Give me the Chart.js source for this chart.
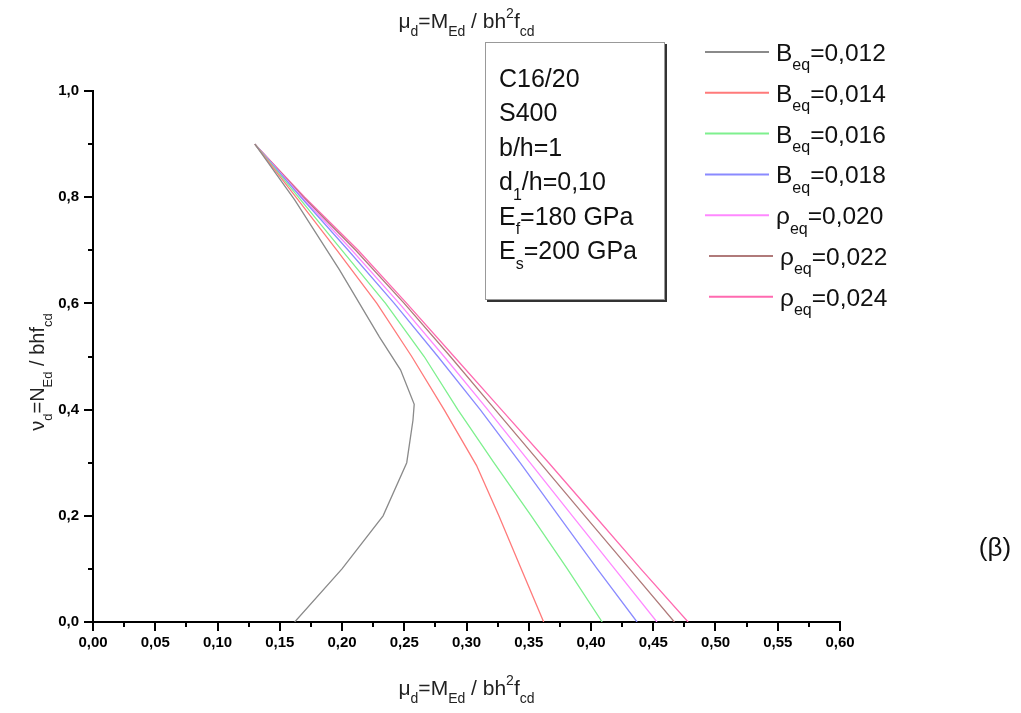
<!DOCTYPE html>
<html>
<head>
<meta charset="utf-8">
<script src="https://cdn.jsdelivr.net/npm/chart.js@4"></script>
<style>
  html, body { margin: 0; background: #fff; }
</style>
</head>
<body>
<canvas id="chart" width="1021" height="713"></canvas>
<script>
// curve values (mu_d, nu_d)
const mu012 = [0.130, 0.162, 0.198, 0.230, 0.247, 0.258, 0.257, 0.252, 0.233, 0.200, 0.162];
const nu012 = [0.900, 0.795, 0.663, 0.537, 0.475, 0.410, 0.380, 0.300, 0.200, 0.100, 0.000];
const mu014 = [0.130, 0.163, 0.196, 0.228, 0.256, 0.282, 0.308, 0.326, 0.344, 0.362];
const nu014 = [0.900, 0.800, 0.700, 0.600, 0.500, 0.400, 0.295, 0.200, 0.100, 0.000];
const mu016 = [0.130, 0.165, 0.200, 0.235, 0.266, 0.293, 0.322, 0.352, 0.381, 0.409];
const nu016 = [0.900, 0.800, 0.700, 0.600, 0.500, 0.400, 0.300, 0.200, 0.100, 0.000];
const mu018 = [0.130, 0.167, 0.205, 0.242, 0.277, 0.311, 0.343, 0.374, 0.405, 0.437];
const nu018 = [0.900, 0.800, 0.700, 0.600, 0.500, 0.400, 0.300, 0.200, 0.100, 0.000];
const mu020 = [0.130, 0.168, 0.208, 0.246, 0.282, 0.317, 0.351, 0.385, 0.419, 0.453];
const nu020 = [0.900, 0.800, 0.700, 0.600, 0.500, 0.400, 0.300, 0.200, 0.100, 0.000];
const mu022 = [0.130, 0.169, 0.211, 0.250, 0.287, 0.323, 0.359, 0.395, 0.431, 0.467];
const nu022 = [0.900, 0.800, 0.700, 0.600, 0.500, 0.400, 0.300, 0.200, 0.100, 0.000];
const mu024 = [0.130, 0.170, 0.213, 0.252, 0.290, 0.328, 0.366, 0.403, 0.440, 0.478];
const nu024 = [0.900, 0.800, 0.700, 0.600, 0.500, 0.400, 0.300, 0.200, 0.100, 0.000];

const legendSymbols = ['B', 'B', 'B', 'B', 'ρ', 'ρ', 'ρ'];
const legendValues = ['0,012', '0,014', '0,016', '0,018', '0,020', '0,022', '0,024'];
const lineColors = ['#8a8a8a', '#ff7a7a', '#7ef08e', '#8a8aff', '#ff88ff', '#b07a7a', '#ff6ab0'];

const boxLines = [
  [['C16/20', 'n']],
  [['S400', 'n']],
  [['b/h=1', 'n']],
  [['d', 'n'], ['1', 'sub'], ['/h=0,10', 'n']],
  [['E', 'n'], ['f', 'sub'], ['=180 GPa', 'n']],
  [['E', 'n'], ['s', 'sub'], ['=200 GPa', 'n']]
];

const xTitle = [['μ', 'n'], ['d', 'sub'], ['=M', 'n'], ['Ed', 'sub'], [' / bh', 'n'], ['2', 'sup'], ['f', 'n'], ['cd', 'sub']];
const yTitle = [['ν', 'n'], ['d', 'sub'], ['=N', 'n'], ['Ed', 'sub'], [' / bhf', 'n'], ['cd', 'sub']];

const FONT = '"Liberation Sans", Arial, sans-serif';
const SUB = 0.65;

const pairs = (xs, ys) => xs.map((x, i) => ({ x: x, y: ys[i] }));
const seriesX = [mu012, mu014, mu016, mu018, mu020, mu022, mu024];
const seriesY = [nu012, nu014, nu016, nu018, nu020, nu022, nu024];

// rich text: normal / sub / sup pieces
function richWidth(ctx, parts, size) {
  let w = 0;
  for (const [t, m] of parts) {
    ctx.font = (m === 'n' ? size : Math.round(size * SUB)) + 'px ' + FONT;
    w += ctx.measureText(t).width;
  }
  return w;
}
function drawRich(ctx, parts, x, y, size, color) {
  ctx.fillStyle = color;
  ctx.textBaseline = 'alphabetic';
  ctx.textAlign = 'left';
  for (const [t, m] of parts) {
    let dy = 0;
    if (m === 'n') {
      ctx.font = size + 'px ' + FONT;
    } else {
      ctx.font = Math.round(size * SUB) + 'px ' + FONT;
      dy = m === 'sub' ? size * 0.38 : -size * 0.5;
    }
    ctx.fillText(t, x, y + dy);
    x += ctx.measureText(t).width;
  }
}

const extras = {
  id: 'extras',
  afterDraw(chart) {
    const ctx = chart.ctx;
    const xs = chart.scales.x, ys = chart.scales.y;
    ctx.save();
    // minor ticks
    ctx.strokeStyle = '#000';
    ctx.lineWidth = 2;
    ctx.beginPath();
    for (let v = 0.025; v < 0.6; v += 0.05) {
      const px = Math.round(xs.getPixelForValue(v));
      ctx.moveTo(px, ys.bottom);
      ctx.lineTo(px, ys.bottom + 5);
    }
    for (let v = 0.1; v < 1; v += 0.2) {
      const py = Math.round(ys.getPixelForValue(v));
      ctx.moveTo(xs.left, py);
      ctx.lineTo(xs.left - 5, py);
    }
    ctx.stroke();

    // axis titles
    const cx = (xs.left + xs.right) / 2;
    let w = richWidth(ctx, xTitle, 21);
    drawRich(ctx, xTitle, cx - w / 2, 28, 21, '#222');
    drawRich(ctx, xTitle, cx - w / 2, 695, 21, '#222');
    ctx.save();
    ctx.translate(44, 372);
    ctx.rotate(-Math.PI / 2);
    w = richWidth(ctx, yTitle, 20);
    drawRich(ctx, yTitle, -w / 2, 0, 20, '#222');
    ctx.restore();

    // parameter box
    ctx.fillStyle = '#fff';
    ctx.fillRect(485, 42, 180, 258);
    ctx.strokeStyle = '#999';
    ctx.lineWidth = 1;
    ctx.strokeRect(485.5, 42.5, 179, 257);
    ctx.strokeStyle = '#333';
    ctx.lineWidth = 2;
    ctx.beginPath();
    ctx.moveTo(487, 301);
    ctx.lineTo(666, 301);
    ctx.lineTo(666, 44);
    ctx.stroke();
    boxLines.forEach((parts, i) => drawRich(ctx, parts, 499, 87 + i * 34.4, 25, '#111'));

    // legend
    chart.data.datasets.forEach((ds, i) => {
      const y = 52 + i * 40.8;
      const shift = i >= 5 ? 4 : 0;
      ctx.strokeStyle = ds.borderColor;
      ctx.lineWidth = 2;
      ctx.beginPath();
      ctx.moveTo(705 + shift, y);
      ctx.lineTo(769 + shift, y);
      ctx.stroke();
      const parts = [[legendSymbols[i], 'n'], ['eq', 'sub'], ['=' + legendValues[i], 'n']];
      drawRich(ctx, parts, 776 + shift, y + 9, 24.5, '#111');
    });

    // panel mark
    ctx.font = '26px ' + FONT;
    ctx.fillStyle = '#111';
    ctx.textAlign = 'center';
    ctx.textBaseline = 'middle';
    ctx.fillText('(β)', 995, 549);
    ctx.restore();
  }
};

new Chart(document.getElementById('chart'), {
  type: 'scatter',
  data: {
    datasets: seriesX.map((xs, i) => ({
      label: legendSymbols[i] + 'eq=' + legendValues[i],
      data: pairs(xs, seriesY[i]),
      showLine: true,
      borderColor: lineColors[i],
      borderWidth: 1.3,
      pointRadius: 0,
      tension: 0
    }))
  },
  options: {
    responsive: false,
    animation: false,
    devicePixelRatio: 1,
    layout: { padding: { left: 0, top: 91, right: 181, bottom: 0 } },
    plugins: { legend: { display: false }, tooltip: { enabled: false } },
    scales: {
      x: {
        type: 'linear',
        min: 0,
        max: 0.6,
        afterFit: (s) => { s.height = 91; },
        border: { display: true, color: '#000', width: 2 },
        grid: { drawOnChartArea: false, drawTicks: true, tickLength: 9, color: '#000', lineWidth: 2 },
        ticks: {
          stepSize: 0.05,
          padding: 3,
          color: '#000',
          font: { family: FONT, size: 15, weight: 'bold' },
          callback: (v) => v.toFixed(2).replace('.', ',')
        }
      },
      y: {
        type: 'linear',
        min: 0,
        max: 1,
        afterFit: (s) => { s.width = 93; },
        border: { display: true, color: '#000', width: 2 },
        grid: { drawOnChartArea: false, drawTicks: true, tickLength: 9, color: '#000', lineWidth: 2 },
        ticks: {
          stepSize: 0.2,
          padding: 5,
          color: '#000',
          font: { family: FONT, size: 15, weight: 'bold' },
          callback: (v) => v.toFixed(1).replace('.', ',')
        }
      }
    }
  },
  plugins: [extras]
});
</script>
</body>
</html>
